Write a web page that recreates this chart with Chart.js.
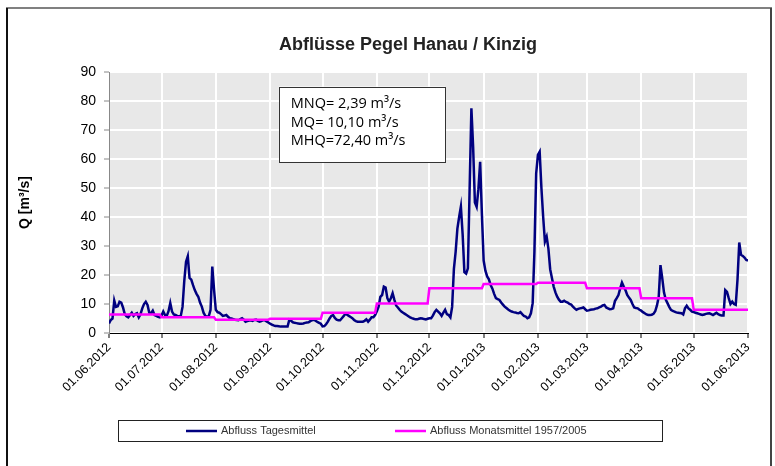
<!DOCTYPE html>
<html>
<head>
<meta charset="utf-8">
<script src="https://cdn.jsdelivr.net/npm/chart.js@4.4.0/dist/chart.umd.min.js"></script>
<style>
  html, body { margin: 0; padding: 0; background: #fff; }
</style>
</head>
<body>
<canvas id="diagram" width="775" height="466"></canvas>
<script>
// Tagesmittel, one array per month (m³/s)
var jun12 = [3.3,4.5,5,11.2,9,9.2,10.8,10.5,8.8,6.5, 5.8,5.4,6.2,7,5.9,6.5,6.8,5.4,6.5,8.5, 10,10.8,9.7,7,6.8,7.7,6.2,5.9,5.6,5.4];
var jul12 = [6,7.4,6.2,5.9,7.5,10.3,7.4,6.4,6.2,5.9, 5.8,5.9,9,18,24.6,26.5,19,18.4,16.5,14.8, 13.5,12.5,10.5,9.1,7,5.9,5.6,5.8,8,22.9, 15];
var aug12 = [8,7.2,7,6.5,5.9,6,6.2,5.6,5.1,5, 4.8,4.6,4.5,4.4,4.8,5.1,4.6,3.9,4.1,4.3, 4.4,4.2,4.5,4.6,4.2,3.9,4.1,4.4,4.4,4, 3.6];
var sep12 = [3.2,2.9,2.6,2.4,2.4,2.3,2.2,2.2,2.2,2.2, 2.2,4.6,4.2,3.7,3.5,3.4,3.3,3.2,3.2,3.3, 3.5,3.6,3.7,4.1,4.4,4.6,4.2,3.8,3.5,3.2];
var okt12 = [2.3,2.4,3,3.9,5,5.9,6.2,5.2,4.6,4.4, 4.4,5.1,5.8,6.6,6.3,5.9,5.5,5.1,4.5,4.1, 3.9,3.9,3.9,3.9,4.2,4.7,3.9,4.6,5.4,5.4, 6.2];
var nov12 = [7.5,9.1,12.5,13.1,16,15.7,12,10.8,12,13.7, 11.4,9.5,8.8,8,7.4,7,6.6,6.2,5.8,5.4, 5.1,4.9,4.7,4.7,4.9,5.1,5,4.8,4.7,4.9];
var dez12 = [5.1,5.1,6,7.2,8,7.4,6.8,5.9,7,8, 6.5,6.2,5.4,9,22,28,36,40,43.6,34, 21,20.5,22.3,50,77.5,64,45,43.5,49.6,59, 41];
var jan13 = [25,21.5,19.5,18.5,16.5,15.3,13.5,12,11.7,11.4, 10.5,9.8,9.1,8.6,8.1,7.7,7.4,7.2,7.1,6.9, 6.8,7.2,6.5,5.9,5.7,5.1,5.4,6.8,10.3,28, 55];
var feb13 = [61.4,62.5,50,40,31.5,33.2,29,22,19,16, 14,12.5,11.5,10.8,10.8,11.1,10.7,10.5,10,9.8, 9.1,8.5,8,8.3,8.5,8.6,8.8,8.2];
var mar13 = [7.7,7.8,8,8.1,8.2,8.4,8.5,8.8,9.1,9.5, 9.7,8.8,8.5,8.2,8.3,8.5,11,12,13.1,15.4, 17.4,16,14.8,13.1,12.2,11.4,10,8.8,8.6,8.5, 8];
var apr13 = [7.7,7.2,6.8,6.4,6.2,6.2,6.3,6.6,7.5,9.5, 12.5,23.4,19,14,11.5,10.3,9,8,7.6,7.4, 7.1,7,6.9,6.8,6.4,8.5,9.4,8.5,8,7.4];
var mai13 = [7.2,7,6.8,6.6,6.4,6.2,6.4,6.6,6.7,6.8, 6.5,6.2,6.6,7,6.5,6.2,6,6,14.8,14.2, 12,10,10.8,10,9.7,18.4,31.2,27,26.6,26, 25.2];
var jun13 = [25];

// Monatsmittel 1957/2005, Jun..Mai
var monatsmittel = [6.4, 5.4, 4.6, 4.9, 7.0, 10.2, 15.4, 16.9, 17.3, 15.4, 12.0, 8.0];

// day index of each month start, 01.06.2012 = 0
var monthStart = [0, 30, 61, 92, 122, 153, 183, 214, 245, 273, 304, 334, 365];
var tickLabels = ['01.06.2012','01.07.2012','01.08.2012','01.09.2012','01.10.2012','01.11.2012',
                  '01.12.2012','01.01.2013','01.02.2013','01.03.2013','01.04.2013','01.05.2013','01.06.2013'];

var infoLines = ['MNQ= 2,39 m³/s', 'MQ= 10,10 m³/s', 'MHQ=72,40 m³/s'];

var tages = [].concat(jun12, jul12, aug12, sep12, okt12, nov12, dez12, jan13, feb13, mar13, apr13, mai13, jun13);
var tagesData = tages.map(function(v, i){ return {x: i, y: v}; });

var monatsData = [];
for (var m = 0; m < monatsmittel.length; m++) {
  var last = (m == monatsmittel.length - 1) ? monthStart[m + 1] : monthStart[m + 1] - 1;
  monatsData.push({x: monthStart[m], y: monatsmittel[m]});
  monatsData.push({x: last, y: monatsmittel[m]});
}

Chart.defaults.font.family = '"Liberation Sans", Arial, sans-serif';
Chart.defaults.color = '#000';

var deko = {
  id: 'deko',
  beforeDraw: function(chart){
    var c = chart.ctx, a = chart.chartArea;
    c.save();
    c.fillStyle = '#fff';
    c.fillRect(0, 0, chart.width, chart.height);
    c.fillStyle = '#e8e8e8';
    c.fillRect(a.left, a.top, a.right - a.left, a.bottom - a.top);
    c.restore();
  },
  afterDraw: function(chart){
    var c = chart.ctx, xs = chart.scales.x, ys = chart.scales.y;
    c.save();

    // title
    c.fillStyle = '#222';
    c.font = 'bold 18px "Liberation Sans", Arial, sans-serif';
    c.textAlign = 'center';
    c.textBaseline = 'middle';
    c.fillText('Abflüsse Pegel Hanau / Kinzig', 408, 45);

    // info box
    var bx1 = xs.getPixelForValue(97), bx2 = xs.getPixelForValue(192);
    var by1 = ys.getPixelForValue(85), by2 = ys.getPixelForValue(59);
    c.fillStyle = '#fff';
    c.fillRect(bx1, by1, bx2 - bx1, by2 - by1);
    c.strokeStyle = '#333';
    c.lineWidth = 1;
    c.strokeRect(Math.round(bx1) + 0.5, Math.round(by1) + 0.5, Math.round(bx2 - bx1), Math.round(by2 - by1));
    c.fillStyle = '#000';
    c.font = '14.5px "Open Sans", sans-serif';
    c.textAlign = 'left';
    c.textBaseline = 'alphabetic';
    for (var i = 0; i < infoLines.length; i++) {
      c.fillText(infoLines[i], bx1 + 12, by1 + 21.5 + i * 18.5);
    }

    // legend
    c.strokeStyle = '#222';
    c.strokeRect(118.5, 420.5, 544, 21);
    c.font = '11px "Liberation Sans", Arial, sans-serif';
    c.textBaseline = 'middle';
    var items = [[186, chart.data.datasets[0]], [395, chart.data.datasets[1]]];
    items.forEach(function(it){
      c.strokeStyle = it[1].borderColor;
      c.lineWidth = 2.5;
      c.beginPath();
      c.moveTo(it[0], 431);
      c.lineTo(it[0] + 31, 431);
      c.stroke();
      c.fillStyle = '#333';
      c.fillText(it[1].label, it[0] + 35, 431);
    });

    // outer frame
    c.lineWidth = 2;
    c.strokeStyle = '#808080';
    c.beginPath(); c.moveTo(6, 8); c.lineTo(772, 8); c.stroke();
    c.strokeStyle = '#111';
    c.beginPath(); c.moveTo(7, 8); c.lineTo(7, 466); c.stroke();
    c.strokeStyle = '#444';
    c.beginPath(); c.moveTo(771, 8); c.lineTo(771, 466); c.stroke();
    c.restore();
  }
};

var chart = new Chart(document.getElementById('diagram').getContext('2d'), {
  type: 'line',
  data: {
    datasets: [
      {
        label: 'Abfluss Tagesmittel',
        data: tagesData,
        borderColor: '#000080',
        borderWidth: 2.5,
        pointRadius: 0,
        tension: 0,
        order: 1
      },
      {
        label: 'Abfluss Monatsmittel 1957/2005',
        data: monatsData,
        borderColor: '#ff00ff',
        borderWidth: 2.5,
        pointRadius: 0,
        tension: 0,
        order: 0
      }
    ]
  },
  options: {
    responsive: false,
    animation: false,
    layout: { padding: { top: 72, right: 27, bottom: 0, left: 0 } },
    plugins: {
      legend: { display: false },
      title: { display: false },
      tooltip: { enabled: false }
    },
    scales: {
      x: {
        type: 'linear',
        min: 0,
        max: 365,
        afterBuildTicks: function(s){
          s.ticks = monthStart.map(function(v){ return {value: v}; });
        },
        afterFit: function(s){ s.height = 133; },
        ticks: {
          autoSkip: false,
          minRotation: 45,
          maxRotation: 45,
          padding: 2,
          color: '#000',
          font: { size: 12.5 },
          callback: function(v, i){ return tickLabels[i]; }
        },
        grid: { color: '#fff', lineWidth: 2, tickColor: '#000', tickLength: 5, tickWidth: 1 },
        border: { color: '#000', width: 1 }
      },
      y: {
        min: 0,
        max: 90,
        afterFit: function(s){ s.width = 109; },
        ticks: { stepSize: 10, padding: 8, color: '#000', font: { size: 14 } },
        title: {
          display: true,
          text: 'Q [m³/s]',
          color: '#000',
          font: { size: 14, weight: 'bold' },
          padding: { top: 17, bottom: 0 }
        },
        grid: { color: '#fff', lineWidth: 2, tickColor: '#888', tickLength: 5, tickWidth: 1 },
        border: { color: '#888', width: 1 }
      }
    }
  },
  plugins: [deko]
});
</script>
</body>
</html>
